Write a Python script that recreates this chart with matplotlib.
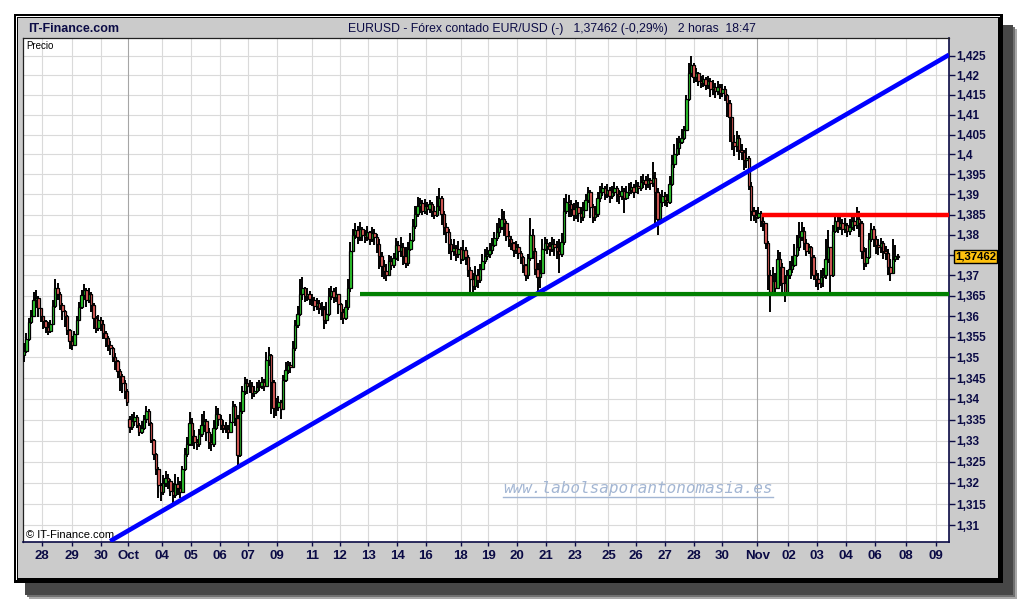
import numpy as np
import matplotlib
matplotlib.use("Agg")
import matplotlib.pyplot as plt
import matplotlib.transforms as mtransforms
from matplotlib.patches import Rectangle
from matplotlib.lines import Line2D
from matplotlib.ticker import NullLocator

# EUR/USD 2-hour candles, values in pips above 1.3000 (one row = one trading day of 12 bars)
close_pips = [
    515, 545, 585, 600, 640, 645, 620, 600, 588, 575, 565, 580,
    625, 668, 655, 628, 612, 600, 566, 540, 530, 558, 592, 622,
    652, 665, 640, 655, 628, 595, 572, 590, 582, 560, 548, 530,
    522, 500, 492, 468, 455, 438, 420, 392, 332, 348, 356, 338,
    322, 330, 352, 370, 342, 302, 268, 232, 195, 178, 200, 212,
    205, 182, 172, 198, 188, 178, 232, 268, 292, 342, 312, 298,
    292, 315, 338, 348, 322, 298, 292, 330, 365, 352, 338, 330,
    328, 320, 345, 382, 355, 265, 370, 420, 438, 430, 432, 415,
    420, 428, 432, 440, 432, 495, 505, 440, 378, 380, 392, 375,
    445, 470, 482, 478, 522, 578, 605, 655, 668, 650, 655, 642,
    640, 625, 632, 620, 618, 590, 605, 650, 662, 648, 655, 630,
    610, 595, 622, 668, 760, 800, 812, 795, 815, 800, 795, 806,
    790, 805, 795, 778, 748, 722, 710, 702, 735, 725, 742, 775,
    760, 770, 748, 730, 765, 788, 822, 852, 870, 878, 860, 872,
    865, 875, 858, 850, 872, 890, 852, 820, 808, 778, 760, 768,
    752, 765, 740, 762, 745, 712, 690, 675, 700, 688, 715, 735,
    748, 752, 762, 775, 792, 808, 820, 838, 830, 798, 790, 780,
    762, 770, 755, 745, 725, 700, 742, 800, 760, 715, 695, 705,
    765, 780, 772, 765, 778, 770, 760, 752, 782, 860, 882, 875,
    865, 850, 868, 855, 845, 862, 885, 905, 868, 845, 852, 890,
    905, 915, 900, 910, 895, 905, 915, 900, 895, 908, 892, 905,
    910, 918, 905, 922, 915, 930, 935, 925, 935, 928, 940, 905,
    840, 880, 895, 885, 880, 925, 975, 1000, 1015, 1030, 1040, 1062,
    1140, 1205, 1225, 1195, 1205, 1185, 1180, 1190, 1175, 1185, 1165, 1170,
    1160, 1170, 1155, 1165, 1150, 1130, 1095, 1030, 1020, 1040, 1010, 1005,
    985, 990, 920, 860, 850, 845, 855, 835, 828, 780, 700, 660,
    685, 670, 740, 720, 680, 655, 700, 715, 725, 750, 770, 795,
    810, 780, 760, 770, 745, 700, 690, 680, 695, 700, 740, 770,
    700, 810, 835, 820, 830, 815, 825, 810, 820, 835, 825, 840,
    830, 760, 730, 745, 790, 815, 790, 775, 770, 780, 760, 755,
    720, 705, 740, 748, 746.2,
]
high_pips = [
    535, 560, 595, 615, 660, 665, 650, 615, 600, 590, 585, 590,
    640, 692, 680, 660, 632, 615, 602, 570, 552, 565, 600, 635,
    665, 678, 668, 668, 660, 632, 600, 602, 598, 590, 565, 552,
    540, 525, 510, 495, 472, 460, 445, 425, 360, 365, 368, 362,
    342, 348, 362, 382, 375, 345, 305, 272, 238, 200, 218, 228,
    222, 210, 200, 220, 215, 205, 240, 282, 310, 368, 355, 325,
    305, 328, 365, 372, 352, 330, 315, 350, 382, 378, 362, 350,
    345, 338, 365, 395, 388, 362, 392, 432, 452, 448, 445, 440,
    432, 440, 445, 452, 448, 512, 525, 508, 445, 402, 408, 398,
    458, 488, 492, 490, 540, 592, 625, 692, 695, 672, 668, 662,
    655, 648, 645, 640, 635, 625, 635, 668, 675, 668, 672, 648,
    632, 618, 640, 690, 782, 815, 830, 822, 832, 818, 812, 822,
    810, 818, 815, 802, 790, 758, 738, 728, 750, 748, 755, 792,
    785, 795, 780, 770, 782, 805, 838, 872, 893, 890, 885, 888,
    880, 885, 880, 870, 895, 915, 895, 860, 830, 815, 790, 790,
    775, 785, 770, 788, 770, 750, 720, 705, 722, 715, 728, 752,
    765, 770, 780, 792, 808, 830, 842, 865, 858, 835, 810, 798,
    782, 785, 778, 760, 748, 728, 752, 842, 815, 768, 730, 738,
    790, 795, 790, 782, 795, 790, 785, 790, 805, 890, 902, 898,
    885, 878, 885, 880, 868, 880, 900, 918, 912, 875, 872, 905,
    922, 928, 922, 925, 918, 922, 930, 920, 912, 922, 915, 920,
    928, 932, 925, 935, 930, 945, 952, 945, 950, 942, 982, 955,
    915, 900, 912, 905, 900, 945, 998, 1025, 1040, 1045, 1065, 1072,
    1150, 1232, 1250, 1232, 1218, 1208, 1198, 1200, 1195, 1198, 1192, 1188,
    1180, 1185, 1178, 1178, 1172, 1152, 1138, 1095, 1048, 1058, 1048, 1025,
    1010, 1015, 995, 930, 868, 862, 868, 860, 848, 830, 785, 712,
    720, 705, 762, 758, 730, 700, 712, 735, 748, 778, 800, 832,
    832, 818, 790, 778, 772, 750, 712, 705, 712, 718, 790, 812,
    742, 825, 848, 845, 845, 840, 842, 830, 838, 848, 845, 868,
    858, 835, 770, 768, 805, 830, 822, 798, 790, 792, 785, 772,
    765, 740, 790, 775, 752,
]
low_pips = [
    490, 510, 540, 580, 598, 620, 598, 585, 570, 560, 555, 560,
    590, 620, 640, 615, 592, 575, 555, 520, 518, 528, 555, 588,
    618, 640, 622, 632, 610, 568, 560, 565, 565, 545, 525, 515,
    505, 490, 470, 450, 420, 415, 400, 382, 318, 325, 335, 330,
    312, 315, 325, 342, 335, 295, 255, 218, 165, 158, 172, 190,
    185, 168, 152, 165, 172, 165, 175, 228, 262, 288, 288, 280,
    278, 285, 308, 320, 300, 280, 275, 285, 325, 335, 325, 318,
    318, 305, 320, 342, 335, 243, 262, 365, 410, 412, 415, 400,
    405, 415, 418, 425, 420, 430, 480, 365, 355, 360, 372, 352,
    405, 440, 460, 462, 475, 515, 572, 600, 640, 635, 638, 628,
    625, 612, 615, 605, 600, 568, 580, 600, 640, 632, 635, 605,
    590, 580, 590, 615, 660, 772, 790, 778, 785, 785, 780, 785,
    775, 782, 775, 755, 715, 695, 690, 685, 698, 712, 718, 738,
    735, 745, 725, 718, 722, 760, 782, 815, 845, 855, 848, 852,
    850, 855, 845, 838, 845, 860, 825, 800, 780, 752, 738, 748,
    735, 742, 728, 735, 725, 695, 660, 657, 665, 668, 680, 712,
    728, 738, 742, 752, 770, 785, 795, 812, 798, 785, 770, 762,
    745, 752, 740, 728, 705, 685, 690, 735, 740, 700, 657, 668,
    745, 760, 752, 748, 758, 748, 740, 705, 745, 775, 852, 845,
    845, 835, 840, 832, 828, 835, 858, 878, 842, 830, 835, 845,
    880, 895, 885, 892, 878, 888, 895, 882, 875, 885, 855, 885,
    895, 900, 890, 905, 900, 908, 915, 910, 915, 912, 918, 830,
    800, 835, 868, 872, 868, 875, 920, 965, 995, 998, 1025, 1035,
    1062, 1135, 1195, 1180, 1182, 1172, 1168, 1170, 1162, 1165, 1145, 1150,
    1142, 1150, 1140, 1145, 1135, 1095, 1030, 1010, 995, 1005, 985, 985,
    960, 965, 910, 835, 835, 830, 838, 818, 810, 765, 665, 610,
    650, 655, 668, 675, 652, 635, 650, 690, 705, 720, 745, 760,
    785, 762, 748, 752, 690, 688, 672, 665, 668, 672, 690, 730,
    657, 695, 805, 805, 812, 800, 805, 795, 800, 812, 810, 815,
    795, 740, 712, 720, 740, 782, 770, 752, 750, 755, 740, 738,
    700, 685, 705, 732, 738,
]
first_open_pips = 505
gap_open_pips = {44: 352}   # first bar after the weekend gap

day_ticks = [7.5, 20, 32, 43.5, 57.5, 69.5, 81.5, 93.5, 105.5, 120, 131.5, 143.5,
             155.5, 167.5, 182, 193.5, 205.5, 217.5, 229.5, 243.5, 255, 267, 279,
             291, 305.5, 318.5, 330.5, 342.5, 354.5, 367.5, 380]
day_labels = ['28', '29', '30', 'Oct', '04', '05', '06', '07', '09', '11', '12', '13',
              '14', '16', '18', '19', '20', '21', '23', '25', '26', '27', '28',
              '30', 'Nov', '02', '03', '04', '06', '08', '09']
month_ticks = [43.5, 305.5]

price_ticks = np.round(np.arange(1.310, 1.4251, 0.005), 3)
last_price = 1.37462

# drawn trend lines (bar index, price)
blue_x = [35.9, 385.4]
blue_y = [1.3063, 1.4252]
support_level, support_from = 1.3655, 140
resistance_level, resistance_from = 1.3850, 307.5

# ---------------------------------------------------------------
W, H = 1020, 600
navy = '#0b0b45'
NARROW = ['Liberation Sans Narrow', 'Liberation Sans', 'DejaVu Sans']
SANS = ['Liberation Sans', 'DejaVu Sans']

fig = plt.figure(figsize=(W / 100, H / 100), dpi=100)
fig.patch.set_facecolor('white')


def box(x0, y0, x1, y1, color):
    fig.patches.append(Rectangle((x0 / W, 1 - y1 / H), (x1 - x0) / W, (y1 - y0) / H,
                                 transform=fig.transFigure, figure=fig,
                                 facecolor=color, lw=0))


# drop shadow + framed grey panel
box(29, 29, 1017, 599, '#a8a8a8')
box(27, 27, 1015, 597, '#707070')
box(25, 25, 1013, 595, '#474747')
box(14, 14, 1003, 583, 'black')
box(16, 16, 1000, 580, 'white')
box(17, 17, 1000, 580, 'black')
box(18, 18, 998, 578, '#cbcbcb')

ax = fig.add_axes([23 / W, 1 - 542 / H, 926 / W, 504 / H])
ax.set_zorder(5)
ax.set_facecolor('white')

n = len(close_pips)
x = np.arange(n)
c = 1.3 + np.array(close_pips) / 1e4
o = np.r_[1.3 + first_open_pips / 1e4, c[:-1]]
for i, v in gap_open_pips.items():
    o[i] = 1.3 + v / 1e4
hi = np.maximum(1.3 + np.array(high_pips) / 1e4, np.maximum(o, c))
lo = np.minimum(1.3 + np.array(low_pips) / 1e4, np.minimum(o, c))

ax.set_yscale('log')
ax.vlines(x, lo, hi, color='black', lw=1.4, zorder=3)
up = c >= o
ax.bar(x[up], c[up] - o[up], bottom=o[up], width=1.0, color='#2fd02f',
       edgecolor='black', linewidth=0.9, zorder=4)
ax.bar(x[~up], o[~up] - c[~up], bottom=c[~up], width=1.0, color='#e8625e',
       edgecolor='black', linewidth=0.9, zorder=4)

ax.plot(blue_x, blue_y, color='#0000ff', lw=3.3, solid_capstyle='butt', zorder=6)
ax.plot([support_from, 385.4], [support_level] * 2, color='#008000', lw=3.0,
        solid_capstyle='butt', zorder=6)
ax.plot([resistance_from, 385.4], [resistance_level] * 2, color='#ff0000', lw=3.2,
        solid_capstyle='butt', zorder=6)

ax.set_xlim(-0.4, 385.4)
ax.set_ylim(1.3061, 1.4295)

# grid
for v in price_ticks:
    ax.axhline(v, color='#dadada', lw=0.8, zorder=1)
for t in day_ticks:
    col = '#a6a6a6' if t in month_ticks else '#dadada'
    ax.axvline(t, color=col, lw=0.8, zorder=1)

ax.yaxis.tick_right()
ax.set_yticks(price_ticks)
ylabels = [('%.3f' % v).rstrip('0').rstrip('.').replace('.', ',') for v in price_ticks]
ylabels = ['' if abs(v - 1.375) < 1e-6 else s for v, s in zip(price_ticks, ylabels)]
ax.set_yticklabels(ylabels, family=SANS, fontweight='bold', fontsize=8.5, color=navy)
ax.yaxis.set_minor_locator(NullLocator())
ax.tick_params(axis='y', which='major', direction='out', length=4, width=1,
               color=navy, pad=1.5)

ax.set_xticks(day_ticks)
ax.set_xticklabels(day_labels, family=NARROW, fontweight='bold', fontsize=9.5, color=navy)
ax.tick_params(axis='x', direction='out', length=3, width=1, color=navy, pad=3)

for side in ['right', 'bottom']:
    ax.spines[side].set_color(navy)
    ax.spines[side].set_linewidth(1.2)
for side in ['left', 'top']:
    ax.spines[side].set_color('#222222')
    ax.spines[side].set_linewidth(0.9)

# last price tag
tr = mtransforms.blended_transform_factory(ax.transAxes, ax.transData)
ax.text(1 + 6 / 926, last_price, '1,37462', transform=tr, ha='left', va='center',
        family=SANS, fontweight='bold', fontsize=8.2, color='black', clip_on=False,
        bbox=dict(boxstyle='square,pad=0.12', fc='#ffc20e', ec='black', lw=1))

ax.text(0.004, 0.995, 'Precio', transform=ax.transAxes, ha='left', va='top',
        family=SANS, fontsize=7, color='black')
ax.text(0.003, 0.004, '\u00a9 IT-Finance.com', transform=ax.transAxes, ha='left',
        va='bottom', family=SANS, fontsize=8, color='black')

# header texts
fig.text(28 / W, 1 - 29 / H, 'IT-Finance.com', ha='left', va='center',
         family=NARROW, fontweight='bold', fontsize=9, color=navy, zorder=7)
fig.text(552 / W, 1 - 29 / H,
         'EURUSD - F\u00f3rex contado EUR/USD (-)   1,37462 (-0,29%)   2 horas  18:47',
         ha='center', va='center', family=NARROW, fontsize=8.8, color=navy, zorder=7)

# watermark
wm = '#a3b6d3'
fig.text(638 / W, 1 - 489 / H, 'www.labolsaporantonomasia.es', ha='center', va='center',
         family='DejaVu Sans Mono', style='italic', fontsize=11.5, color=wm, zorder=7)
fig.add_artist(Line2D([503 / W, 773 / W], [1 - 497 / H] * 2, transform=fig.transFigure,
                      color=wm, lw=1, zorder=7))

fig.savefig('out.png', dpi=100)
